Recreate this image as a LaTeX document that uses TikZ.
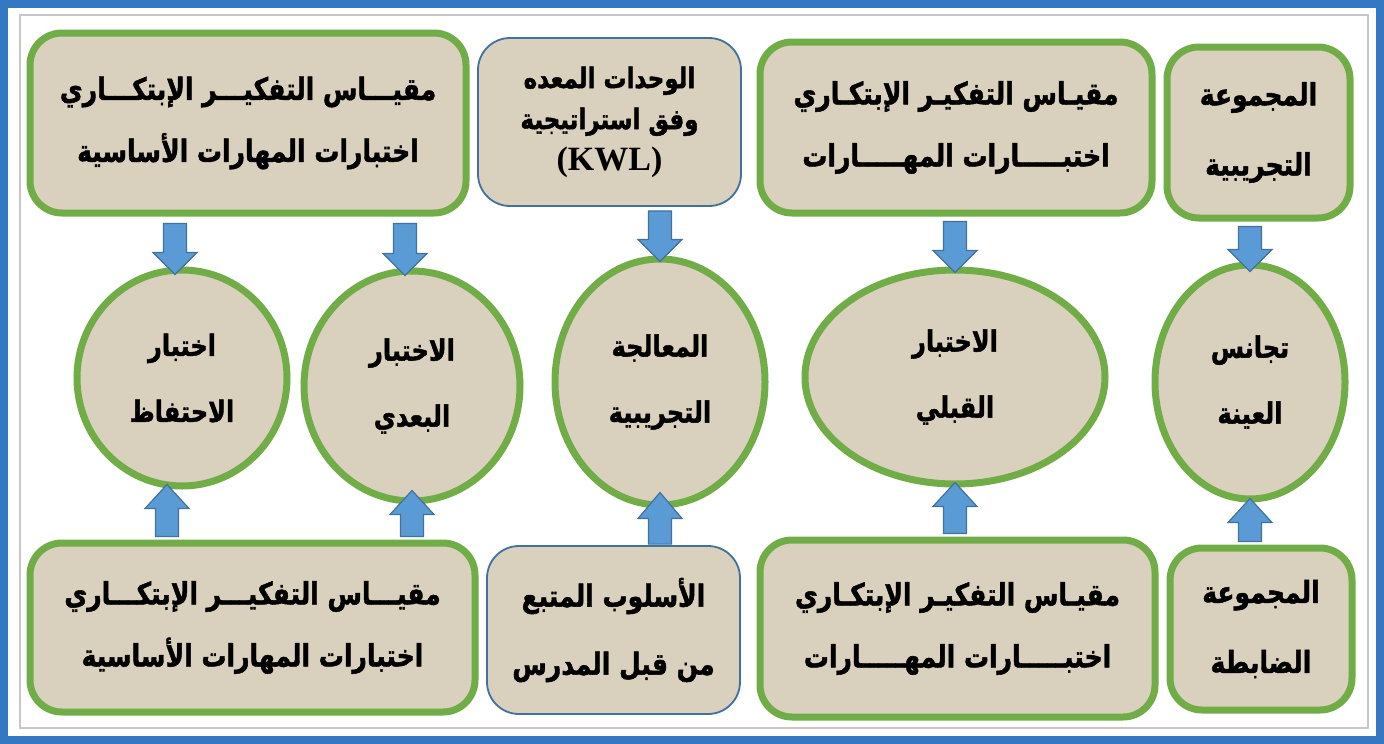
\documentclass[tikz,border=0pt]{standalone}
\usepackage{fontspec}
\usepackage{graphicx}
\usetikzlibrary{shapes.geometric,calc}
\TeXXeTstate=1
\newfontfamily\arabicfont[Script=Arabic, BoldFeatures={FakeBold=1.6}]{DejaVu Sans}
\newfontfamily\kwlfont{Liberation Serif}
\newcommand{\arline}[1]{\scalebox{1}[1.22]{\beginR #1\endR}}

\definecolor{linen}{RGB}{218,208,190}
\definecolor{boxgreen}{RGB}{112,173,71}
\definecolor{boxblue}{RGB}{65,113,156}
\definecolor{arrowfill}{RGB}{91,155,213}
\definecolor{framecol}{RGB}{52,120,196}

% block arrow: start, tip, signed head length
\newcommand{\bigarrow}[3]{%
  \draw[blockarr] let \p1=#1, \p2=#2 in
    (\x2-11.5pt,\y1) -- (\x2-11.5pt,\y2+#3) -- (\x2-22pt,\y2+#3) -- (\x2,\y2)
    -- (\x2+22pt,\y2+#3) -- (\x2+11.5pt,\y2+#3) -- (\x2+11.5pt,\y1) -- cycle;}

\begin{document}
\begin{tikzpicture}[x=1pt,y=-1pt,
    greenbox/.style={draw=boxgreen, line width=7pt, fill=linen, rounded corners=32pt,
      inner sep=0pt, align=center, font=\arabicfont\bfseries\fontsize{25}{62}\selectfont},
    bluebox/.style={greenbox, draw=boxblue, line width=1.8pt},
    greenoval/.style={draw=boxgreen, line width=7pt, fill=linen, ellipse, inner sep=0pt,
      align=center, font=\arabicfont\bfseries\fontsize{24}{66}\selectfont},
    blockarr/.style={fill=arrowfill, draw=boxblue, line width=1.2pt, line join=miter}]
  \useasboundingbox (0,0) rectangle (1384,744);
  \fill[white] (0,0) rectangle (1384,744);
  \draw[framecol, line width=8pt] (4,4) rectangle (1380,740);
  \draw[gray!45, line width=1.5pt] (20,15) rectangle (1368,728);

  % top row
  \node[greenbox, minimum width=436pt, minimum height=180pt] (toolsTop) at (248,123)
    {\arline{مقيـــاس التفكيـــر الإبتكـــاري}\\\arline{اختبارات المهارات الأساسية}};
  \node[bluebox, minimum width=263pt, minimum height=168pt,
    font=\arabicfont\bfseries\fontsize{23}{41}\selectfont] (units) at (609.5,122)
    {\arline{الوحدات المعده}\\\arline{وفق استراتيجية}\\{\kwlfont\bfseries\fontsize{34}{41}\selectfont (KWL)}};
  \node[greenbox, minimum width=392pt, minimum height=171pt] (toolsPre) at (956,127.5)
    {\arline{مقيـاس التفكيـر الإبتكـاري}\\\arline{اختبـــــارات المهـــــارات}};
  \node[greenbox, minimum width=183pt, minimum height=171pt,
    font=\arabicfont\bfseries\fontsize{25}{70}\selectfont] (expGroup) at (1258.5,132.5)
    {\arline{المجموعة}\\\arline{التجريبية}};

  % middle row
  \node[greenoval, minimum width=210pt, minimum height=216pt] (retention) at (182,378)
    {\arline{اختبار}\\\arline{الاحتفاظ}};
  \node[greenoval, minimum width=216pt, minimum height=230pt] (posttest) at (412,386)
    {\arline{الاختبار}\\\arline{البعدي}};
  \node[greenoval, minimum width=210pt, minimum height=246pt] (treatment) at (660,382)
    {\arline{المعالجة}\\\arline{التجريبية}};
  \node[greenoval, minimum width=300pt, minimum height=214pt] (pretest) at (955,377)
    {\arline{الاختبار}\\\arline{القبلي}};
  \node[greenoval, minimum width=190pt, minimum height=234pt] (homog) at (1250,382)
    {\arline{تجانس}\\\arline{العينة}};

  % bottom row
  \node[greenbox, minimum width=445pt, minimum height=169pt] (toolsBot) at (252.5,627.5)
    {\arline{مقيـــاس التفكيـــر الإبتكـــاري}\\\arline{اختبارات المهارات الأساسية}};
  \node[bluebox, minimum width=253pt, minimum height=168pt,
    font=\arabicfont\bfseries\fontsize{25}{68}\selectfont] (usual) at (613.5,630)
    {\arline{الأسلوب المتبع}\\\arline{من قبل المدرس}};
  \node[greenbox, minimum width=395pt, minimum height=177pt] (toolsPreB) at (957.5,628.5)
    {\arline{مقيـاس التفكيـر الإبتكـاري}\\\arline{اختبـــــارات المهـــــارات}};
  \node[greenbox, minimum width=182pt, minimum height=162pt,
    font=\arabicfont\bfseries\fontsize{25}{70}\selectfont] (ctrlGroup) at (1261,629)
    {\arline{المجموعة}\\\arline{الضابطة}};

  % arrows
  \bigarrow{([yshift=-7pt]toolsTop.south)}{([xshift=-7pt,yshift=-8pt]retention.north)}{22pt}
  \bigarrow{([yshift=-7pt]toolsTop.south)}{([xshift=-7pt,yshift=-8pt]posttest.north)}{22pt}
  \bigarrow{([yshift=-4pt]units.south)}{([yshift=-6pt]treatment.north)}{22pt}
  \bigarrow{([yshift=-5pt]toolsPre.south)}{([yshift=-6pt]pretest.north)}{22pt}
  \bigarrow{([yshift=-5pt]expGroup.south)}{([yshift=-10pt]homog.north)}{22pt}
  \bigarrow{([yshift=3pt]toolsBot.north)}{([xshift=-15pt,yshift=5pt]retention.south)}{-24pt}
  \bigarrow{([yshift=3pt]toolsBot.north)}{([yshift=14pt]posttest.south)}{-24pt}
  \bigarrow{([yshift=1pt]usual.north)}{([yshift=16pt]treatment.south)}{-26pt}
  \bigarrow{([yshift=3pt]toolsPreB.north)}{([yshift=5pt]pretest.south)}{-24pt}
  \bigarrow{([yshift=3pt]ctrlGroup.north)}{([yshift=4pt]homog.south)}{-24pt}
\end{tikzpicture}
\end{document}
